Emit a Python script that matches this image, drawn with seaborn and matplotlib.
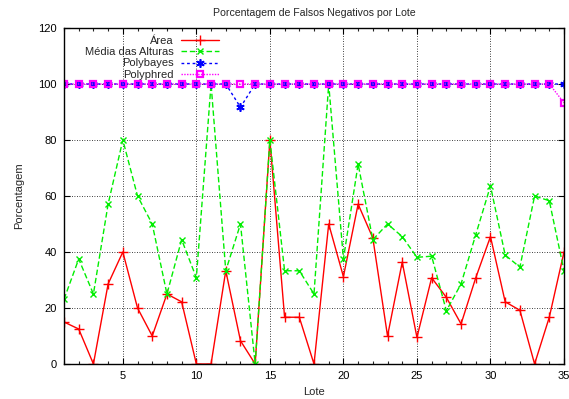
import pandas as pd
import seaborn as sns
import matplotlib.pyplot as plt

lotes = list(range(1, 36))

area = [15, 12.5, 0, 28.6, 40, 20, 10, 25, 22.2, 0, 0, 33.3, 8.3, 0, 80,
        16.7, 16.7, 0, 50, 31.2, 57.1, 45, 10, 36.4, 9.5, 30.8, 23.8, 14.3,
        30.8, 45.5, 22.2, 19.2, 0, 16.7, 40]
media = [23.1, 37.5, 25, 57.1, 80, 60, 50, 25, 44.4, 30.8, 100, 33.3, 50, 0, 80,
         33.3, 33.3, 25, 100, 37.5, 71.4, 44.4, 50, 45.5, 38.1, 38.5, 19, 28.6,
         46.2, 63.6, 38.9, 34.6, 60, 58.3, 33.3]
polybayes = [100] * 12 + [91.7] + [100] * 22
polyphred = [100] * 34 + [93.3]

df = pd.DataFrame({"Lote": lotes, "Área": area, "Média das Alturas": media,
                   "Polybayes": polybayes, "Polyphred": polyphred})

sns.set_theme(style="ticks")
plt.rcParams["font.family"] = ["Liberation Sans", "DejaVu Sans"]
plt.rcParams["font.size"] = 8

fig = plt.figure(figsize=(5.69, 3.99), dpi=100)
ax = fig.add_axes([64 / 569, 1 - 364 / 399, 500 / 569, 336 / 399])

# one call per series, gnuplot-like styles
sns.lineplot(data=df, x="Lote", y="Área", ax=ax, color="red", lw=1,
             marker="+", markersize=7, mew=1, mec="red", label="Área")
sns.lineplot(data=df, x="Lote", y="Média das Alturas", ax=ax, color="#00ee00",
             lw=1, ls=(0, (4, 2)), marker="x", markersize=5, mew=1, mec="#00ee00",
             label="Média das Alturas")
sns.lineplot(data=df, x="Lote", y="Polybayes", ax=ax, color="blue", lw=1,
             ls=(0, (2, 2)), marker=(6, 2, 0), markersize=6, mew=1.2, mec="blue",
             label="Polybayes")
sns.lineplot(data=df, x="Lote", y="Polyphred", ax=ax, color="magenta", lw=1,
             ls=(0, (1, 1)), marker="s", markersize=5, mfc="none", mew=1.6,
             mec="magenta", label="Polyphred")

ax.set_xlim(1, 35)
ax.set_ylim(0, 120)
ax.set_xticks([5, 10, 15, 20, 25, 30, 35])
ax.set_xticks(range(1, 36), minor=True)
ax.set_yticks(range(0, 121, 20))
ax.tick_params(direction="in", top=True, right=True, length=4, width=0.8,
               labelsize=8, colors="black", pad=5)
ax.tick_params(which="minor", direction="in", top=True, length=2, width=0.8)
ax.grid(True, which="major", color="black", ls=(0, (1, 2)), lw=0.6)
ax.set_axisbelow(True)
for s in ax.spines.values():
    s.set_color("black")
    s.set_linewidth(1)

ax.set_xlabel("Lote", fontsize=8, va="center")
ax.xaxis.set_label_coords(0.5, -(392 - 364) / 336)
ax.set_ylabel("Porcentagem", fontsize=8, va="center")
ax.yaxis.set_label_coords(-(64 - 19) / 500, 0.5)
ax.set_title("Porcentagem de Falsos Negativos por Lote", fontsize=7.6, pad=9)

ax.legend(loc="upper right", bbox_to_anchor=(225 / 569, 1 - 30 / 399),
          bbox_transform=fig.transFigure, markerfirst=False, frameon=False,
          fontsize=8, handlelength=3.5, labelspacing=0.13, borderpad=0,
          handletextpad=0.6)

fig.savefig("out.png", dpi=100)
